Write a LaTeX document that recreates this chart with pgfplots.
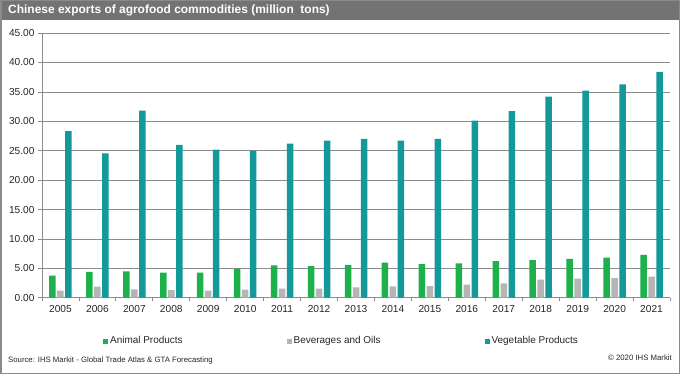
\documentclass[border=0pt]{standalone}
\usepackage{fontspec}
\setmainfont{Liberation Sans}
\usepackage{pgfplots}
\pgfplotsset{compat=1.18}
\definecolor{animal}{HTML}{1DB04B}
\definecolor{bev}{HTML}{B5B5B5}
\definecolor{veg}{HTML}{13999A}
\definecolor{titlegray}{HTML}{737373}
\definecolor{bordergray}{HTML}{8A8A8A}
\definecolor{gridgray}{HTML}{8C8C8C}
\definecolor{txt}{HTML}{262626}
\begin{document}
\begin{tikzpicture}[x=1bp,y=1bp]
\path[use as bounding box] (0,0) rectangle (680,374);
\fill[white] (0,0) rectangle (680,374);
\fill[titlegray] (0,354) rectangle (680,374);
\draw[bordergray, line width=1.5bp] (0.75,0.75) rectangle (679.25,373.25);
\node[anchor=west, text=white, inner sep=0pt, font=\bfseries\fontsize{12}{14}\selectfont] at (8,364) {Chinese exports of agrofood commodities (million~~tons)};
\begin{axis}[
  at={(42bp,76.3bp)}, anchor=south west, scale only axis,
  width=628bp, height=264.6bp,
  ybar=1.5bp, bar width=6.5bp,
  ymin=0, ymax=45, ytick={0,5,...,45},
  xmin=-0.5, xmax=16.5,
  xtick={0,...,16},
  xticklabels={2005,2006,2007,2008,2009,2010,2011,2012,2013,2014,2015,2016,2017,2018,2019,2020,2021},
  minor xtick={-0.5,0.5,...,16.5},
  axis x line*=bottom, axis y line*=left,
  axis line style={-, gridgray, line width=0.8bp},
  ymajorgrids, grid style={gridgray, line width=0.7bp},
  major x tick style={draw=none},
  minor x tick style={gridgray, line width=0.8bp},
  major y tick style={gridgray, line width=0.8bp},
  tick align=outside, major tick length=4bp, minor tick length=3bp,
  yticklabel style={/pgf/number format/.cd, fixed, fixed zerofill, precision=2},
  /pgf/number format/assume math mode=true,
  tick label style={font=\fontsize{10.2}{12}\selectfont, text=txt},
  legend columns=3,
  legend style={at={(axis description cs:0.097,-0.164)}, anchor=west, draw=none, fill=none, inner sep=0pt,
    font=\fontsize{10}{12}\selectfont, text=txt,
    /tikz/every even column/.append style={column sep=102bp}},
  legend image code/.code={\fill[#1] (0bp,-2.5bp) rectangle (5bp,2.5bp);},
]
\addplot[fill=animal, draw=none] coordinates {(0,3.74) (1,4.40) (2,4.49) (3,4.26) (4,4.26) (5,4.94) (6,5.50) (7,5.39) (8,5.60) (9,5.95) (10,5.73) (11,5.85) (12,6.24) (13,6.40) (14,6.60) (15,6.80) (16,7.30)};
\addplot[fill=bev, draw=none] coordinates {(0,1.20) (1,1.87) (2,1.42) (3,1.31) (4,1.20) (5,1.37) (6,1.53) (7,1.53) (8,1.76) (9,1.94) (10,1.99) (11,2.21) (12,2.44) (13,3.06) (14,3.23) (15,3.35) (16,3.57)};
\addplot[fill=veg, draw=none] coordinates {(0,28.35) (1,24.55) (2,31.8) (3,26.0) (4,25.2) (5,25.0) (6,26.2) (7,26.7) (8,27.0) (9,26.7) (10,27.0) (11,30.1) (12,31.75) (13,34.2) (14,35.2) (15,36.3) (16,38.4)};
\legend{Animal Products, Beverages and Oils, Vegetable Products}
\end{axis}
\node[anchor=west, inner sep=0pt, text=txt, font=\fontsize{7.8}{9}\selectfont] at (8,14) {Source: IHS Markit - Global Trade Atlas \& GTA Forecasting};
\node[anchor=east, inner sep=0pt, text=txt, font=\fontsize{7.8}{9}\selectfont] at (672,16) {© 2020 IHS Markit};
\end{tikzpicture}
\end{document}
